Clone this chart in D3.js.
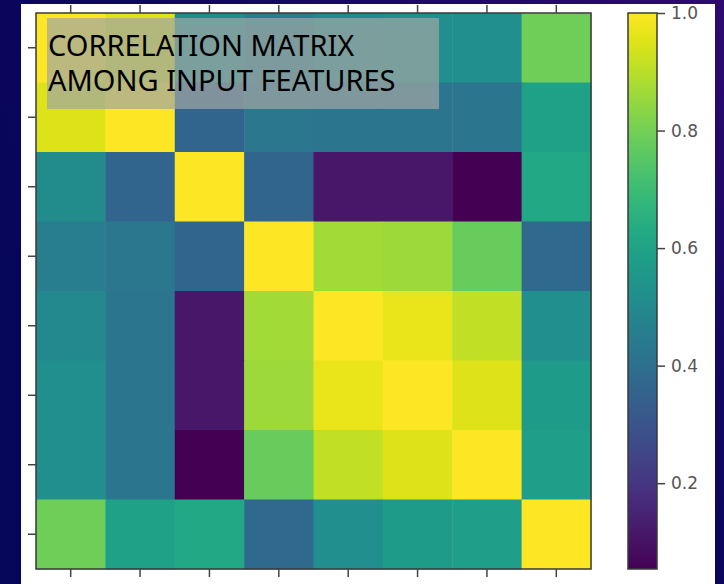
<!DOCTYPE html>
<html lang="en">
    <head>
        <meta charset="utf-8">
        <title>Correlation matrix</title>
        <script type="text/javascript" src="https://cdn.jsdelivr.net/npm/d3@7"></script>
        <style>
            body { margin: 0; }
        </style>
    </head>
    <body>
        <script type="text/javascript">

            //Width and height
            var w = 724;
            var h = 584;

            //Features (unlabelled in the original)
            var features = ["f1", "f2", "f3", "f4", "f5", "f6", "f7", "f8"];

            //Correlation rows
            var row1 = [1.00, 0.95, 0.51, 0.45, 0.50, 0.52, 0.52, 0.79];
            var row2 = [0.95, 1.00, 0.36, 0.43, 0.42, 0.42, 0.42, 0.59];
            var row3 = [0.51, 0.36, 1.00, 0.36, 0.11, 0.11, 0.054, 0.62];
            var row4 = [0.45, 0.43, 0.36, 1.00, 0.87, 0.86, 0.78, 0.375];
            var row5 = [0.50, 0.42, 0.11, 0.87, 1.00, 0.97, 0.91, 0.52];
            var row6 = [0.52, 0.42, 0.11, 0.86, 0.97, 1.00, 0.95, 0.575];
            var row7 = [0.52, 0.42, 0.054, 0.78, 0.91, 0.95, 1.00, 0.58];
            var row8 = [0.79, 0.59, 0.62, 0.375, 0.52, 0.575, 0.58, 1.00];
            var rows = [row1, row2, row3, row4, row5, row6, row7, row8];

            //Colour bar range and ticks
            var cbDomain = [0.054, 1.0];
            var cbTicks = [0.2, 0.4, 0.6, 0.8, 1.0];

            //Title lines
            var titleLines = ["CORRELATION MATRIX", "AMONG INPUT FEATURES"];

            //Flatten into cells
            var cells = [];
            rows.forEach(function(r, i) {
                r.forEach(function(v, j) {
                    cells.push({ row: features[i], col: features[j], value: v });
                });
            });

            var svg = d3.select("body")
                        .append("svg")
                        .attr("width", w)
                        .attr("height", h);

            //Background gradient
            var defs = svg.append("defs");
            var bg = defs.append("radialGradient")
                        .attr("id", "bg")
                        .attr("cx", "100%").attr("cy", "0%").attr("r", "110%");
            bg.append("stop").attr("offset", "0%").attr("stop-color", "#2e0a70");
            bg.append("stop").attr("offset", "55%").attr("stop-color", "#140862");
            bg.append("stop").attr("offset", "100%").attr("stop-color", "#06065a");

            svg.append("rect")
                .attr("width", w).attr("height", h)
                .attr("fill", "url(#bg)");

            //White figure panel
            svg.append("rect")
                .attr("x", 21).attr("y", 4)
                .attr("width", 694).attr("height", h - 4)
                .attr("fill", "#ffffff");

            //Scales
            var xScale = d3.scaleBand()
                        .domain(features)
                        .range([36, 591]);

            var yScale = d3.scaleBand()
                        .domain(features)
                        .range([13, 569]);

            var color = d3.scaleSequential(d3.interpolateViridis)
                        .domain(cbDomain);

            //Cells
            svg.selectAll("rect.cell")
                .data(cells)
                .enter()
                .append("rect")
                .attr("class", "cell")
                .attr("x", function(d) { return xScale(d.col); })
                .attr("y", function(d) { return yScale(d.row); })
                .attr("width", xScale.bandwidth() + 0.5)
                .attr("height", yScale.bandwidth() + 0.5)
                .attr("fill", function(d) { return color(d.value); });

            //Frame
            svg.append("rect")
                .attr("x", 36).attr("y", 13)
                .attr("width", 555).attr("height", 556)
                .attr("fill", "none")
                .attr("stroke", "#3a3a3a")
                .attr("stroke-width", 1.5);

            //Axes: ticks only
            var styleAxis = function(g) {
                g.select(".domain").remove();
                g.selectAll(".tick line")
                    .attr("stroke", "#444")
                    .attr("stroke-width", 1.5);
            };

            svg.append("g")
                .attr("transform", "translate(0,569)")
                .call(d3.axisBottom(xScale).tickSize(8).tickFormat(""))
                .call(styleAxis);

            svg.append("g")
                .attr("transform", "translate(0,13)")
                .call(d3.axisTop(xScale).tickSize(8).tickFormat(""))
                .call(styleAxis);

            svg.append("g")
                .attr("transform", "translate(36,0)")
                .call(d3.axisLeft(yScale).tickSize(8).tickFormat(""))
                .call(styleAxis);

            //Colour bar
            var cbScale = d3.scaleLinear()
                        .domain(cbDomain)
                        .range([569, 13]);

            var grad = defs.append("linearGradient")
                        .attr("id", "cb")
                        .attr("x1", "0%").attr("y1", "100%")
                        .attr("x2", "0%").attr("y2", "0%");
            d3.range(0, 1.0001, 0.05).forEach(function(t) {
                grad.append("stop")
                    .attr("offset", (t * 100) + "%")
                    .attr("stop-color", d3.interpolateViridis(t));
            });

            svg.append("rect")
                .attr("x", 628).attr("y", 13)
                .attr("width", 29).attr("height", 556)
                .attr("fill", "url(#cb)")
                .attr("stroke", "#3a3a3a")
                .attr("stroke-width", 1.5);

            var cbAxis = svg.append("g")
                .attr("transform", "translate(657,0)")
                .call(d3.axisRight(cbScale)
                        .tickValues(cbTicks)
                        .tickSize(8)
                        .tickPadding(6)
                        .tickFormat(d3.format(".1f")))
                .call(styleAxis);

            cbAxis.selectAll("text")
                .attr("font-family", "DejaVu Sans, sans-serif")
                .attr("font-size", "17px")
                .attr("fill", "#555");

            //Title box
            svg.append("rect")
                .attr("x", 47).attr("y", 18)
                .attr("width", 392).attr("height", 91)
                .attr("fill", "rgb(160,166,163)")
                .attr("fill-opacity", 0.71);

            svg.selectAll("text.title")
                .data(titleLines)
                .enter()
                .append("text")
                .attr("class", "title")
                .attr("x", 48)
                .attr("y", function(d, i) { return 56 + i * 34.5; })
                .attr("font-family", "Noto Sans, sans-serif")
                .attr("font-size", "29px")
                .attr("fill", "#000")
                .text(function(d) { return d; });

        </script>
    </body>
</html>
